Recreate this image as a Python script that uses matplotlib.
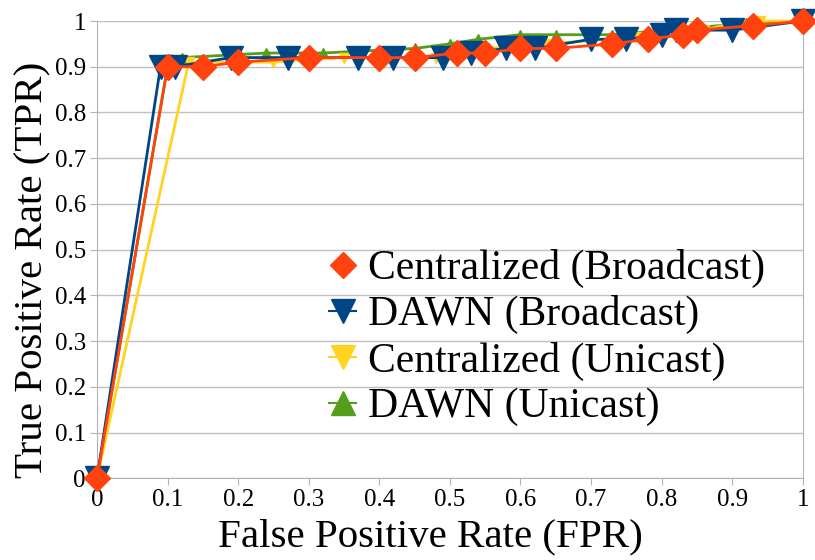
import matplotlib
matplotlib.use("Agg")
import matplotlib.pyplot as plt
from matplotlib.lines import Line2D
from matplotlib.ticker import FormatStrFormatter

# series
cb_x = [0, 0.10, 0.15, 0.20, 0.30, 0.40, 0.45, 0.51, 0.55, 0.60, 0.65, 0.73, 0.78, 0.83, 0.85, 0.93, 1.0]
cb_y = [0, 0.90, 0.90, 0.91, 0.92, 0.92, 0.92, 0.93, 0.93, 0.94, 0.94, 0.95, 0.96, 0.97, 0.98, 0.99, 1.0]

db_x = [0, 0.09, 0.11, 0.19, 0.27, 0.37, 0.42, 0.49, 0.53, 0.58, 0.62, 0.70, 0.75, 0.80, 0.82, 0.90, 1.0]
db_y = [0, 0.90, 0.90, 0.92, 0.92, 0.92, 0.92, 0.92, 0.93, 0.94, 0.94, 0.96, 0.96, 0.97, 0.98, 0.98, 1.0]

cu_x = [0, 0.13, 0.25, 0.35, 0.48, 0.55, 0.64, 0.765, 0.83, 0.86, 0.90, 0.94, 1.0]
cu_y = [0, 0.91, 0.91, 0.92, 0.92, 0.94, 0.95, 0.965, 0.98, 0.98, 0.995, 1.0, 1.0]

du_x = [0, 0.10, 0.12, 0.24, 0.32, 0.45, 0.50, 0.54, 0.60, 0.65, 0.73, 0.92, 1.0]
du_y = [0, 0.90, 0.92, 0.93, 0.93, 0.94, 0.95, 0.96, 0.97, 0.97, 0.97, 0.995, 1.0]

labels = ["Centralized (Broadcast)", "DAWN (Broadcast)",
          "Centralized (Unicast)", "DAWN (Unicast)"]
ticks = [0, 0.1, 0.2, 0.3, 0.4, 0.5, 0.6, 0.7, 0.8, 0.9, 1]

orange = "#FF420E"
navy = "#004586"
yellow = "#FFD320"
green = "#579D1C"

plt.rcParams['font.family'] = 'serif'
plt.rcParams['font.serif'] = ['Liberation Serif', 'Times New Roman', 'DejaVu Serif']

fig = plt.figure(figsize=(8.15, 5.6), dpi=100)
ax = fig.add_axes([0.119, 0.146, 0.866, 0.8165])

ax.plot(du_x, du_y, color=green, lw=2, marker="^", ms=7, zorder=2, clip_on=False)
ax.plot(cu_x, cu_y, color=yellow, lw=2, marker="v", ms=7, zorder=3, clip_on=False)
ax.plot(db_x, db_y, color=navy, lw=2, marker="v", ms=17, zorder=4, clip_on=False)
ax.plot(cb_x, cb_y, color=orange, lw=2, marker="D", ms=13, zorder=5, clip_on=False)

ax.set_xlim(0, 1)
ax.set_ylim(0, 1)
ax.set_xticks(ticks)
ax.set_yticks(ticks)
ax.xaxis.set_major_formatter(FormatStrFormatter('%g'))
ax.yaxis.set_major_formatter(FormatStrFormatter('%g'))
ax.tick_params(labelsize=18, length=5, color="#b3b3b3", direction="out", pad=3)
ax.grid(axis="y", color="#c0c0c0", lw=1)
ax.set_axisbelow(True)
for s in ["left", "bottom", "right"]:
    ax.spines[s].set_color("#b3b3b3")
ax.spines["top"].set_visible(False)

ax.set_xlabel("False Positive Rate (FPR)", fontsize=29.5, labelpad=5)
ax.set_ylabel("True Positive Rate (TPR)", fontsize=29.5, labelpad=2)
ax.xaxis.label.set_x(0.472)
ax.yaxis.label.set_y(0.455)

# legend proxies
handles = [
    Line2D([], [], color=orange, lw=0, marker="D", ms=13),
    Line2D([], [], color=navy, lw=1.5, marker="v", ms=17),
    Line2D([], [], color=yellow, lw=1.5, marker="v", ms=17),
    Line2D([], [], color=green, lw=1.5, marker="^", ms=17),
]
ax.legend(handles, labels, loc="lower left", bbox_to_anchor=(0.329, 0.114),
          frameon=False, fontsize=30, handlelength=0.65, handletextpad=0.29,
          labelspacing=0.17, borderaxespad=0, borderpad=0)

fig.savefig("out.png", dpi=100)
